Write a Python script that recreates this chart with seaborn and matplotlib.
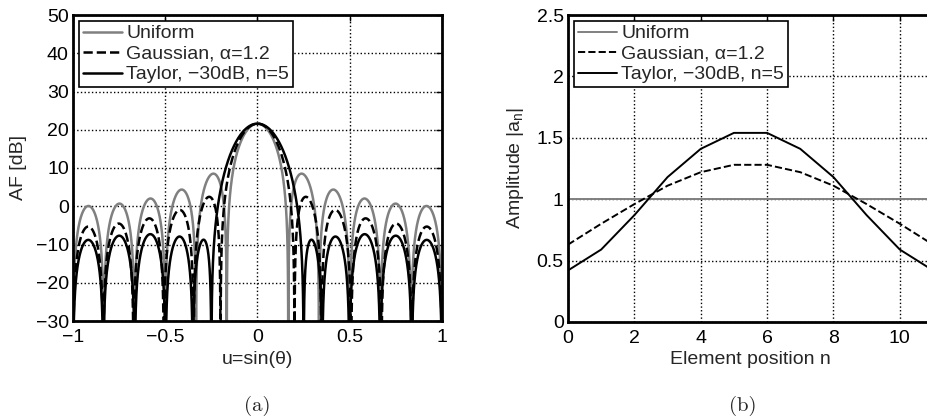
import numpy as np
import matplotlib
matplotlib.use("Agg")
import matplotlib.pyplot as plt
import seaborn as sns

# element amplitudes, 12 elements
n_elem = [0, 1, 2, 3, 4, 5, 6, 7, 8, 9, 10, 11]
amp_uniform = [1, 1, 1, 1, 1, 1, 1, 1, 1, 1, 1, 1]
amp_gauss = [0.63, 0.80, 0.96, 1.11, 1.22, 1.28, 1.28, 1.22, 1.11, 0.96, 0.80, 0.63]
amp_taylor = [0.42, 0.59, 0.87, 1.18, 1.41, 1.54, 1.54, 1.41, 1.18, 0.87, 0.59, 0.42]

labels = ["Uniform", "Gaussian, \u03b1=1.2", "Taylor, \u221230dB, n=5"]
left_xticks = [-1, -0.5, 0, 0.5, 1]
left_yticks = [-30, -20, -10, 0, 10, 20, 30, 40, 50]
right_xticks = [0, 2, 4, 6, 8, 10]
right_yticks = [0, 0.5, 1, 1.5, 2, 2.5]

sns.set_style("white")
plt.rcParams['font.family'] = ['Liberation Sans', 'DejaVu Sans']
plt.rcParams['font.size'] = 14
plt.rcParams['axes.unicode_minus'] = True


def array_factor(amps, u):
    # |sum a_n exp(j*pi*n*u)| in dB, half-wavelength spacing
    a = np.asarray(amps, dtype=float)
    n = np.asarray(n_elem, dtype=float)
    af = np.abs(np.exp(1j * np.pi * np.outer(u, n)) @ a)
    return 20 * np.log10(af + 1e-12)


u = np.linspace(-1, 1, 4001)

fig = plt.figure(figsize=(9.28, 4.17), dpi=100)
W, H = 928.0, 417.0
ax1 = fig.add_axes([73 / W, 1 - 321 / H, (442 - 73) / W, (321 - 15) / H])
ax2 = fig.add_axes([568 / W, 1 - 322 / H, (933 - 568) / W, (322 - 15) / H])

gray = (0.5, 0.5, 0.5)
styles = [dict(color=gray, linestyle='-'),
          dict(color='black', linestyle='--'),
          dict(color='black', linestyle='-')]
amps_all = [amp_uniform, amp_gauss, amp_taylor]

for amps, st, lab in zip(amps_all, styles, labels):
    sns.lineplot(x=u, y=array_factor(amps, u), ax=ax1, lw=1.8, label=lab,
                 sort=False, **st)
    sns.lineplot(x=n_elem, y=amps, ax=ax2, lw=1.4, label=lab, sort=False, **st)

ax1.set_xlim(-1, 1)
ax1.set_ylim(-30, 50)
ax1.set_xticks(left_xticks)
ax1.set_xticklabels(["\u22121", "\u22120.5", "0", "0.5", "1"])
ax1.set_yticks(left_yticks)
ax1.set_yticklabels([str(v).replace('-', '\u2212') for v in left_yticks])
ax1.set_xlabel("u=sin(\u03b8)", labelpad=3)
ax1.set_ylabel("AF [dB]", labelpad=6)

ax2.set_xlim(0, 11)
ax2.set_ylim(0, 2.5)
ax2.set_xticks(right_xticks)
ax2.set_yticks(right_yticks)
ax2.set_yticklabels(["0", "0.5", "1", "1.5", "2", "2.5"])
ax2.set_xlabel("Element position n", labelpad=3)
ax2.set_ylabel("Amplitude |a$_\\mathregular{n}$|", labelpad=8)

for ax in (ax1, ax2):
    ax.grid(True, linestyle=':', color='black', lw=1.0)
    ax.set_axisbelow(True)
    for sp in ax.spines.values():
        sp.set_visible(True)
        sp.set_color('black')
        sp.set_linewidth(2.0)
    ax.tick_params(direction='in', top=True, right=True, length=4, width=1,
                   labelsize=14, pad=3, colors='black')
    ax.tick_params(axis='x', pad=6)
    leg = ax.legend(loc='upper left', fancybox=False, framealpha=1,
                    edgecolor='black', fontsize=14, handlelength=2.0,
                    handletextpad=0.25, labelspacing=0.15, borderpad=0.2,
                    borderaxespad=0.3)
    leg.get_frame().set_linewidth(1.2)

fig.text(257 / W, 1 - 406 / H, "(a)", ha='center', va='center',
         family='cmr10', fontsize=15)
fig.text(743 / W, 1 - 406 / H, "(b)", ha='center', va='center',
         family='cmr10', fontsize=15)

fig.savefig("out.png", dpi=100)
